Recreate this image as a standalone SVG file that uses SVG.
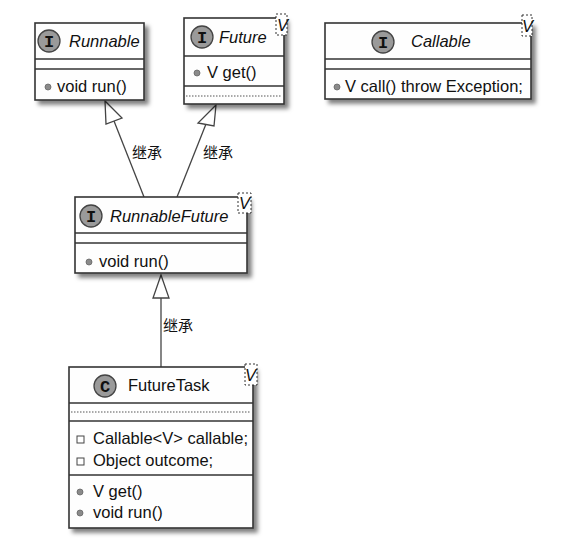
<svg xmlns="http://www.w3.org/2000/svg" width="575" height="551" viewBox="0 0 575 551">
<defs>
<filter id="sh" x="-10%" y="-10%" width="130%" height="130%">
<feDropShadow dx="4" dy="4" stdDeviation="2" flood-color="#000" flood-opacity="0.5"/>
</filter>
</defs>
<style>
.box{fill:#fefefe;stroke:#333;stroke-width:1.6;filter:url(#sh)}
.sep{stroke:#333;stroke-width:1.6}
.dot{stroke:#555;stroke-width:1;stroke-dasharray:1.5,1.5}
.ic{fill:#9a9a9a;stroke:#444;stroke-width:1.3}
.ich{font-family:"Liberation Mono",monospace;font-weight:bold;font-size:17px;fill:#111;text-anchor:middle}
.nm{font-family:"Liberation Sans",Arial,sans-serif;font-size:16.5px;fill:#111}
.it{font-style:italic}
.mb{font-family:"Liberation Sans",Arial,sans-serif;font-size:16.5px;fill:#111}
.md{fill:#8a8a8a;stroke:#666;stroke-width:0.8}
.fd{fill:#fff;stroke:#444;stroke-width:1}
.tb{fill:#fff;stroke:#333;stroke-width:1;stroke-dasharray:2,2}
.tv{font-family:"Liberation Sans",Arial,sans-serif;font-style:italic;font-size:16.5px;fill:#111}
.ln{stroke:#444;stroke-width:1.3;fill:none}
.ah{fill:#fff;stroke:#444;stroke-width:1.3}
.lb{font-family:"Liberation Sans","Noto Sans CJK SC",sans-serif;font-size:15px;fill:#111}
</style>
<g id="connectors">
<line class="ln" x1="144" y1="197" x2="114" y2="121"/>
<polygon class="ah" points="105,101 106,124 122,118"/>
<line class="ln" x1="177" y1="197" x2="206" y2="124"/>
<polygon class="ah" points="216,105 198,123 214,126"/>
<line class="ln" x1="161" y1="367" x2="161" y2="298"/>
<polygon class="ah" points="161,275 153,298 169,298"/>
<text class="lb" x="132" y="158">继承</text>
<text class="lb" x="203" y="158">继承</text>
<text class="lb" x="163" y="331">继承</text>
</g>
<g id="Runnable">
<rect class="box" x="35" y="23" width="109" height="77"/>
<line class="sep" x1="35" y1="59" x2="144" y2="59"/>
<line class="sep" x1="35" y1="69" x2="144" y2="69"/>
<circle class="ic" cx="49" cy="41" r="11"/>
<text class="ich" x="49" y="47">I</text>
<text class="nm it" x="69" y="47">Runnable</text>
<circle class="md" cx="48" cy="87" r="3"/>
<text class="mb" x="57" y="92">void run()</text>
</g>
<g id="Future">
<rect class="box" x="184" y="18" width="100" height="86"/>
<line class="sep" x1="184" y1="56" x2="284" y2="56"/>
<line class="sep" x1="184" y1="86" x2="284" y2="86"/>
<line class="dot" x1="186" y1="96" x2="282" y2="96"/>
<circle class="ic" cx="202" cy="37" r="11"/>
<text class="ich" x="202" y="43">I</text>
<text class="nm it" x="219" y="43">Future</text>
<rect class="tb" x="276" y="14" width="11" height="21"/>
<text class="tv" x="277" y="31">V</text>
<circle class="md" cx="197" cy="73" r="3"/>
<text class="mb" x="207" y="78">V get()</text>
</g>
<g id="Callable">
<rect class="box" x="325" y="23" width="206" height="76"/>
<line class="sep" x1="325" y1="59" x2="531" y2="59"/>
<line class="sep" x1="325" y1="69" x2="531" y2="69"/>
<circle class="ic" cx="383" cy="42" r="11"/>
<text class="ich" x="383" y="48">I</text>
<text class="nm it" x="411" y="47">Callable</text>
<rect class="tb" x="522" y="15" width="10" height="21"/>
<text class="tv" x="522" y="32">V</text>
<circle class="md" cx="337" cy="87" r="3"/>
<text class="mb" x="345" y="92">V call() throw Exception;</text>
</g>
<g id="RunnableFuture">
<rect class="box" x="75" y="197" width="172" height="76"/>
<line class="sep" x1="75" y1="233" x2="247" y2="233"/>
<line class="sep" x1="75" y1="243" x2="247" y2="243"/>
<circle class="ic" cx="91" cy="216" r="11"/>
<text class="ich" x="91" y="222">I</text>
<text class="nm it" x="110" y="222">RunnableFuture</text>
<rect class="tb" x="238" y="193" width="13" height="20"/>
<text class="tv" x="239" y="209">V</text>
<circle class="md" cx="89" cy="262" r="3"/>
<text class="mb" x="99" y="267">void run()</text>
</g>
<g id="FutureTask">
<rect class="box" x="69" y="367" width="184" height="161"/>
<line class="sep" x1="69" y1="403" x2="253" y2="403"/>
<line class="dot" x1="71" y1="412" x2="251" y2="412"/>
<line class="sep" x1="69" y1="421" x2="253" y2="421"/>
<line class="sep" x1="69" y1="475" x2="253" y2="475"/>
<circle class="ic" cx="105" cy="386" r="11"/>
<text class="ich" x="105" y="392">C</text>
<text class="nm" x="128" y="391">FutureTask</text>
<rect class="tb" x="245" y="364" width="12" height="21"/>
<text class="tv" x="245" y="381">V</text>
<rect class="fd" x="77" y="436" width="7" height="7"/>
<text class="mb" x="93" y="444">Callable&lt;V&gt; callable;</text>
<rect class="fd" x="77" y="458" width="7" height="7"/>
<text class="mb" x="93" y="466">Object outcome;</text>
<circle class="md" cx="80" cy="492" r="3"/>
<text class="mb" x="93" y="497">V get()</text>
<circle class="md" cx="80" cy="513" r="3"/>
<text class="mb" x="93" y="518">void run()</text>
</g>
</svg>
